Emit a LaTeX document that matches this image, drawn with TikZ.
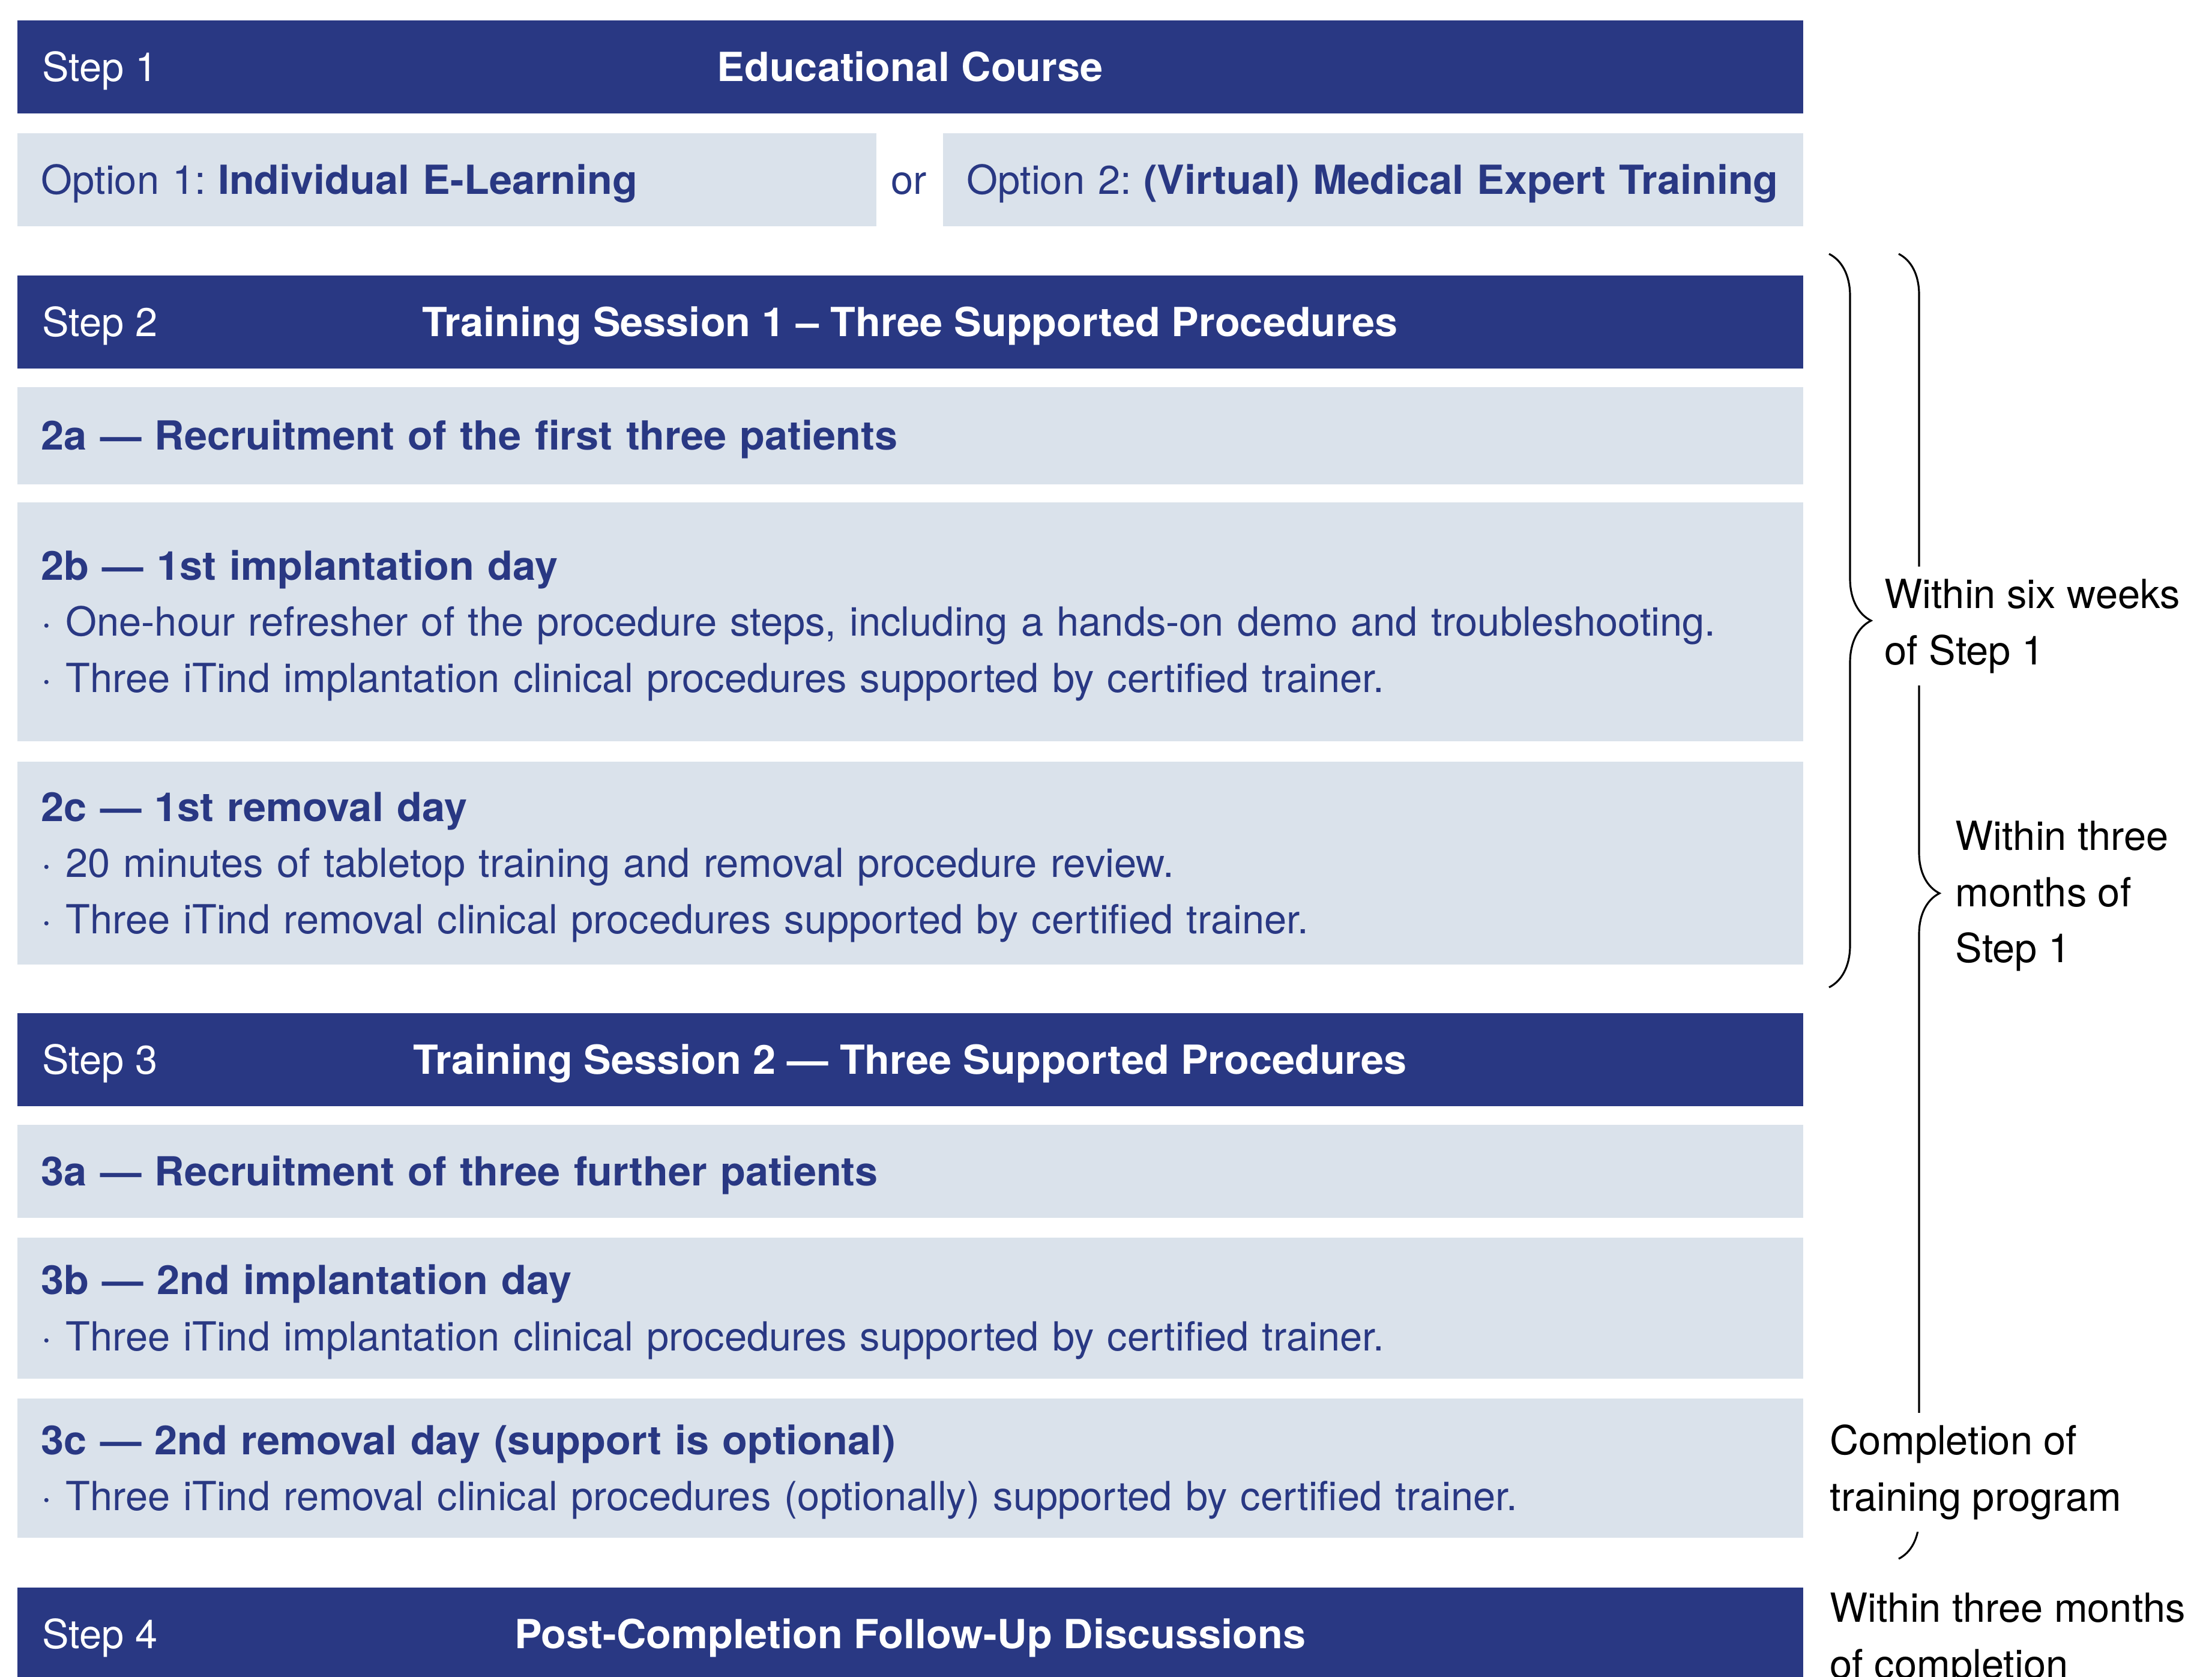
\documentclass[tikz,border=0pt]{standalone}
\usepackage{fontspec}
\setmainfont{TeX Gyre Heros}[BoldFeatures={FakeStretch=1.025}]
\usetikzlibrary{decorations.pathreplacing}
\definecolor{navy}{RGB}{41,56,131}
\definecolor{paleblue}{RGB}{218,226,235}
\begin{document}
\begin{tikzpicture}[
    every node/.style={font=\fontsize{19pt}{26.7pt}\selectfont},
    capline/.style={text height=0.49cm, text depth=0pt},
    stepbar/.style={capline, fill=navy, text=white, anchor=north west, minimum width=29.75cm, minimum height=1.55cm, inner sep=0pt, font=\fontsize{19pt}{26.7pt}\selectfont\bfseries},
    steptag/.style={capline, text=white, anchor=west, inner sep=0pt},
    infobox/.style={fill=paleblue, text=navy, anchor=north west, minimum width=29.75cm, text width=28.95cm, text height=0.63cm, inner xsep=0.4cm, inner ysep=0pt, align=left},
    optbox/.style={infobox, minimum width=#1, text width=#1-0.8cm},
    note/.style={text=black, anchor=west, align=left, fill=white, inner xsep=0.05cm, inner ysep=0.2cm},
    timebrace/.style={decorate, decoration={brace, amplitude=#1}, line width=0.9pt}
  ]
  \useasboundingbox (0,0) rectangle (36.85,-27.93);
  \draw[timebrace=0.7cm] (30.47,-4.23) -- (30.47,-16.45);
  \draw[timebrace=0.68cm, decoration={aspect=0.49}] (31.63,-4.23) -- (31.63,-25.97);

  \node[stepbar] (s1) at (0.28,-0.33) {Educational Course};
  \node[steptag] (s1tag) at (0.70,-1.105) {Step 1};
  \node[optbox=14.31cm, minimum height=1.55cm] (opt1) at (0.28,-2.21) {\mbox{Option 1:\hspace{0.2cm}\textbf{Individual E-Learning}}};
  \node[capline, text=navy] (or) at (15.145,-2.985) {or};
  \node[optbox=14.33cm, minimum height=1.55cm] (opt2) at (15.70,-2.21) {\mbox{Option 2:\hspace{0.2cm}\textbf{(Virtual) Medical Expert Training}}};

  \node[stepbar] (s2) at (0.28,-4.58) {Training Session 1 – Three Supported Procedures};
  \node[steptag] (s2tag) at (0.70,-5.355) {Step 2};
  \node[infobox, minimum height=1.62cm] (b2a) at (0.28,-6.44) {\textbf{2a — Recruitment of the first three patients}};
  \node[infobox, minimum height=3.98cm] (b2b) at (0.28,-8.36) {\textbf{2b — 1st implantation day}\\
    · One-hour refresher of the procedure steps, including a hands-on demo and troubleshooting.\\
    · Three iTind implantation clinical procedures supported by certified trainer.};
  \node[infobox, minimum height=3.38cm] (b2c) at (0.28,-12.68) {\textbf{2c — 1st removal day}\\
    · 20 minutes of tabletop training and removal procedure review.\\
    · Three iTind removal clinical procedures supported by certified trainer.};

  \node[stepbar] (s3) at (0.28,-16.87) {Training Session 2 — Three Supported Procedures};
  \node[steptag] (s3tag) at (0.70,-17.645) {Step 3};
  \node[infobox, minimum height=1.55cm] (b3a) at (0.28,-18.73) {\textbf{3a — Recruitment of three further patients}};
  \node[infobox, minimum height=2.35cm] (b3b) at (0.28,-20.61) {\textbf{3b — 2nd implantation day}\\
    · Three iTind implantation clinical procedures supported by certified trainer.};
  \node[infobox, minimum height=2.32cm] (b3c) at (0.28,-23.29) {\textbf{3c — 2nd removal day (support is optional)}\\
    · Three iTind removal clinical procedures (optionally) supported by certified trainer.};

  \node[stepbar] (s4) at (0.28,-26.44) {Post-Completion Follow-Up Discussions};
  \node[steptag] (s4tag) at (0.70,-27.215) {Step 4};

  \node[note] (sixweeks) at (31.34,-10.43) {Within six weeks\\of Step 1};
  \node[note] (threemonths) at (32.52,-14.93) {Within three\\months of\\Step 1};
  \node[note] (completion) at (30.43,-24.53) {Completion of\\training program};
  \node[note, fill=none] (followup) at (30.43,-27.32) {Within three months\\of completion};
\end{tikzpicture}
\end{document}
